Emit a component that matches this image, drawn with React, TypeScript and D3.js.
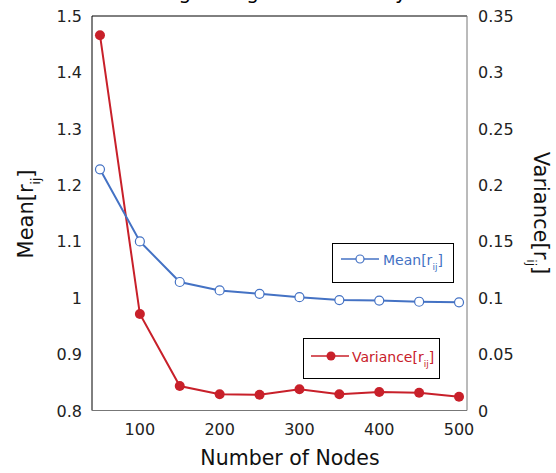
import React from "react";
import * as d3 from "d3";

const nodes = [50, 100, 150, 200, 250, 300, 350, 400, 450, 500];
const meanValues = [1.228, 1.1, 1.028, 1.013, 1.007, 1.001, 0.996, 0.995, 0.993, 0.992];
const varianceValues = [0.333, 0.0856, 0.0217, 0.0144, 0.014, 0.0188, 0.0144, 0.0164, 0.0158, 0.0122];
const xTicks = [100, 200, 300, 400, 500];
const leftTicks = [0.8, 0.9, 1, 1.1, 1.2, 1.3, 1.4, 1.5];
const rightTicks = [0, 0.05, 0.1, 0.15, 0.2, 0.25, 0.3, 0.35];
const titleText = "Edge Weight Consistency";

const W = 556, H = 473;
const L = 92, R = 467, T = 16, B = 410.5;
const BLUE = "#4472C4";
const RED = "#C8202A";
const FONT = "'DejaVu Sans', sans-serif";

export default function App() {
  const x = d3.scaleLinear().domain([40, 510]).range([L, R]);
  const yL = d3.scaleLinear().domain([0.8, 1.5]).range([B, T]);
  const yR = d3.scaleLinear().domain([0, 0.35]).range([B, T]);
  const meanLine = d3.line<number>().x((_, i) => x(nodes[i])).y((d) => yL(d));
  const varLine = d3.line<number>().x((_, i) => x(nodes[i])).y((d) => yR(d));
  const fmt = (v: number) => String(+v.toFixed(2));

  return (
    <svg width={W} height={H} style={{ position: "absolute", left: 0, top: 0, background: "#fff" }} fontFamily={FONT}>
      <text x={280} y={-1} textAnchor="middle" fontSize={20} fill="#000">{titleText}</text>
      {/* frame */}
      <line x1={L} y1={T} x2={R} y2={T} stroke="#000" strokeWidth={1} />
      <line x1={L} y1={T} x2={L} y2={B} stroke="#000" strokeWidth={1} />
      <line x1={R} y1={T} x2={R} y2={B} stroke="#777" strokeWidth={1} />
      <line x1={L} y1={B} x2={R} y2={B} stroke="#777" strokeWidth={1} />

      {leftTicks.map((t) => (
        <text key={"l" + t} x={82} y={yL(t) + 6} textAnchor="end" fontSize={16} fill="#222">{fmt(t)}</text>
      ))}
      {rightTicks.map((t) => (
        <text key={"r" + t} x={478} y={yR(t) + 6} textAnchor="start" fontSize={16} fill="#222">{fmt(t)}</text>
      ))}
      {xTicks.map((t) => (
        <text key={"x" + t} x={x(t)} y={435} textAnchor="middle" fontSize={16} fill="#222">{t}</text>
      ))}

      <text x={290} y={465} textAnchor="middle" fontSize={20.5} fill="#111">Number of Nodes</text>
      <text transform={`translate(33,${214}) rotate(-90)`} textAnchor="middle" fontSize={21} fill="#111">
        Mean[r<tspan fontSize={12} dy={7}>ij</tspan><tspan dy={-7}>]</tspan>
      </text>
      <text transform={`translate(534,${213}) rotate(90)`} textAnchor="middle" fontSize={21} fill="#111">
        Variance[r<tspan fontSize={12} dy={7}>ij</tspan><tspan dy={-7}>]</tspan>
      </text>

      <path d={varLine(varianceValues) || ""} fill="none" stroke={RED} strokeWidth={2} />
      {varianceValues.map((v, i) => (
        <circle key={"v" + i} cx={x(nodes[i])} cy={yR(v)} r={5} fill={RED} />
      ))}
      <path d={meanLine(meanValues) || ""} fill="none" stroke={BLUE} strokeWidth={2} />
      {meanValues.map((v, i) => (
        <circle key={"m" + i} cx={x(nodes[i])} cy={yL(v)} r={4.5} fill="#fff" stroke={BLUE} strokeWidth={1.2} />
      ))}

      {/* legends */}
      <rect x={332.5} y={243.5} width={121} height={39} fill="#fff" stroke="#000" strokeWidth={1} />
      <line x1={341} y1={259} x2={379} y2={259} stroke={BLUE} strokeWidth={1.5} />
      <circle cx={360} cy={259} r={4} fill="#fff" stroke={BLUE} strokeWidth={1.2} />
      <text x={383} y={265} fontSize={14} fill={BLUE}>
        Mean[r<tspan fontSize={9} dy={5}>ij</tspan><tspan dy={-5}>]</tspan>
      </text>

      <rect x={303.5} y={338.5} width={136} height={40} fill="#fff" stroke="#000" strokeWidth={1} />
      <line x1={311} y1={356} x2={349} y2={356} stroke={RED} strokeWidth={1.5} />
      <circle cx={331} cy={356} r={4.5} fill={RED} />
      <text x={352} y={362} fontSize={14} fill={RED}>
        Variance[r<tspan fontSize={9} dy={5}>ij</tspan><tspan dy={-5}>]</tspan>
      </text>
    </svg>
  );
}
